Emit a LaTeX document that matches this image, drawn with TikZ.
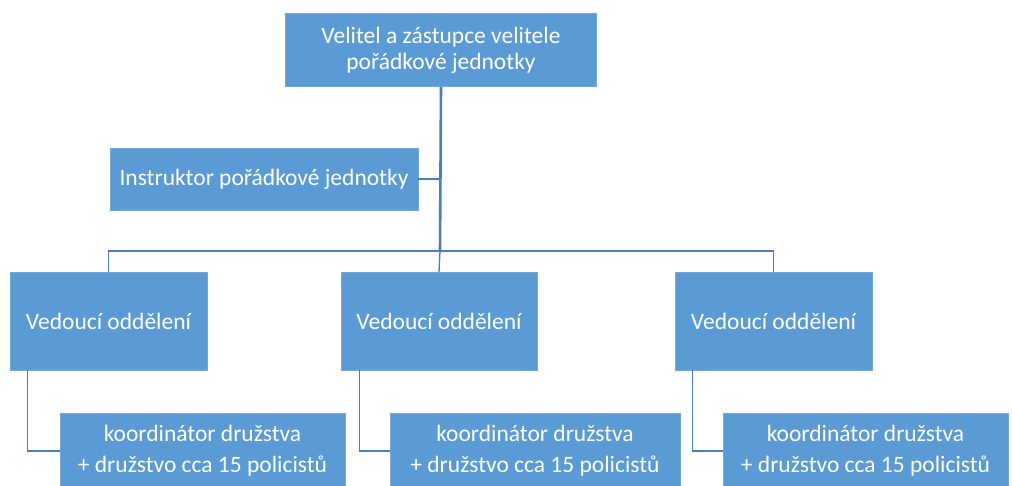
\documentclass[tikz,border=0pt]{standalone}
\usepackage{fontspec}
\setmainfont{Carlito}
\usepackage{tikz}
\usetikzlibrary{calc}

\definecolor{boxblue}{HTML}{5B9BD5}
\definecolor{lineblue}{HTML}{4A7EBB}

\begin{document}
\begin{tikzpicture}
      [
        x=1pt, y=1pt,
        box/.style={fill=boxblue, draw=boxblue!85!white, inner sep=0pt,
          text=white, align=center, font=\fontsize{23.5}{26}\selectfont},
        link/.style={draw=lineblue, line width=1.3pt},
        trunk/.style={draw=lineblue, line width=2.6pt}
      ]
      \useasboundingbox (0,0) rectangle (1012,-486);
      % top
      \node [box, minimum width=311, minimum height=73] (top) at (441,-50)
        {Velitel a zástupce velitele\\pořádkové jednotky};
      \node [box, minimum width=308, minimum height=62] (instr) at (264,-179)
        {Instruktor pořádkové jednotky};
      % vedouci
      \node [box, minimum width=197, minimum height=98] (lead1) at (108.5,-321) {Vedoucí oddělení};
      \node [box, minimum width=196, minimum height=98] (lead2) at (439,-321) {Vedoucí oddělení};
      \node [box, minimum width=197, minimum height=98] (lead3) at (773.5,-321) {Vedoucí oddělení};
      % druzstva
      \node [box, minimum width=285, minimum height=76, font=\fontsize{23.5}{31}\selectfont]
        (team1) at (202.5,-451) {koordinátor družstva\\+ družstvo cca 15 policistů};
      \node [box, minimum width=290, minimum height=76, font=\fontsize{23.5}{31}\selectfont]
        (team2) at (535,-451) {koordinátor družstva\\+ družstvo cca 15 policistů};
      \node [box, minimum width=285, minimum height=76, font=\fontsize{23.5}{31}\selectfont]
        (team3) at (865.5,-451) {koordinátor družstva\\+ družstvo cca 15 policistů};
      % edges
      \coordinate (fork) at (440,-251);
      \draw [trunk] (top.south) -- (fork);
      \draw [link] (instr.east) -- (instr.east -| fork);
      \draw [link] (lead1.north) |- (fork) -| (lead3.north);
      \draw [link] (fork) -- (lead2.north);
      \draw [link] ([xshift=18pt]lead1.south west) |- (team1.west);
      \draw [link] ([xshift=19pt]lead2.south west) |- (team2.west);
      \draw [link] ([xshift=18pt]lead3.south west) |- (team3.west);
    \end{tikzpicture}
\end{document}
